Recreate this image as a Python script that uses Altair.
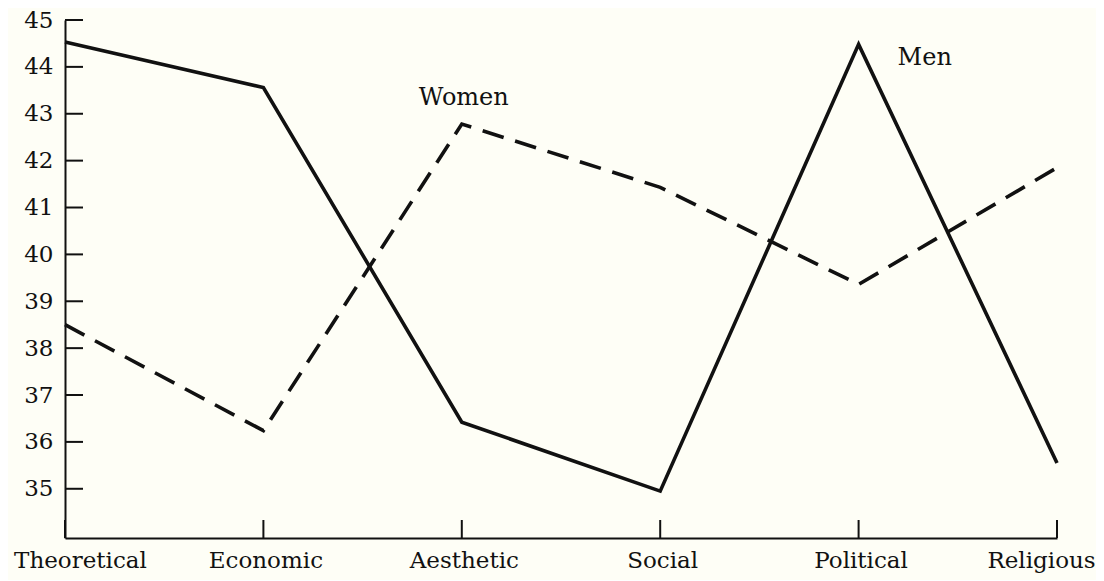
import altair as alt
import pandas as pd

categories = ["Theoretical", "Economic", "Aesthetic", "Social", "Political", "Religious"]
men = [44.53, 43.56, 36.42, 34.95, 44.48, 35.55]
women = [38.5, 36.24, 42.78, 41.43, 39.36, 41.85]
y_ticks = [35, 36, 37, 38, 39, 40, 41, 42, 43, 44, 45]

FONT = "DejaVu Serif"
INK = "#111111"
W, H = 992, 518

men_df = pd.DataFrame({"category": categories, "value": men})
women_df = pd.DataFrame({"category": categories, "value": women})
ytick_df = pd.DataFrame({"value": y_ticks})
xtick_df = pd.DataFrame({"category": categories})
women_lab = pd.DataFrame({"category": ["Aesthetic"], "value": [women[2]], "label": ["Women"]})
men_lab = pd.DataFrame({"category": ["Political"], "value": [men[4]], "label": ["Men"]})

xscale = alt.Scale(domain=categories, type="point", padding=0)
yscale = alt.Scale(domain=[33.95, 45], nice=False, zero=False)

x_axis = alt.Axis(
    title=None, ticks=False, tickSize=0, grid=False, labelAngle=0,
    domainColor=INK, domainWidth=2, labelFont=FONT, labelFontSize=23,
    labelColor=INK, labelPadding=11,
    labelOffset={"condition": [
        {"test": "datum.value === 'Theoretical'", "value": 15},
        {"test": "datum.value === 'Religious'", "value": -16}],
        "value": 2},
)
y_axis = alt.Axis(
    title=None, values=y_ticks, ticks=False, tickSize=0, grid=False,
    domainColor=INK, domainWidth=2, labelFont=FONT, labelFontSize=23,
    labelColor=INK, labelPadding=12,
)

X = alt.X("category:N", sort=categories, scale=xscale, axis=x_axis)
Y = alt.Y("value:Q", scale=yscale, axis=y_axis)

men_line = alt.Chart(men_df).mark_line(color=INK, strokeWidth=3.6, strokeJoin="miter").encode(x=X, y=Y)
women_line = alt.Chart(women_df).mark_line(
    color=INK, strokeWidth=3.6, strokeDash=[22, 12], strokeJoin="miter"
).encode(x=X, y=Y)

ytick_rules = alt.Chart(ytick_df).mark_rule(color=INK, strokeWidth=2).encode(
    y=Y, x=alt.value(0), x2=alt.value(18)
)
xtick_rules = alt.Chart(xtick_df).mark_rule(color=INK, strokeWidth=2).encode(
    x=X, y=alt.value(H - 18), y2=alt.value(H)
)

women_text = alt.Chart(women_lab).mark_text(
    font=FONT, fontSize=24, color=INK, align="center", baseline="alphabetic", dx=2, dy=-19
).encode(x=X, y=Y, text="label:N")
men_text = alt.Chart(men_lab).mark_text(
    font=FONT, fontSize=24, color=INK, align="left", baseline="alphabetic", dx=39, dy=21
).encode(x=X, y=Y, text="label:N")

chart = alt.layer(
    xtick_rules, ytick_rules, men_line, women_line, women_text, men_text
).properties(
    width=W, height=H,
    background="#fefef6",
    padding={"left": 57, "top": 12, "right": 39, "bottom": 42},
    autosize=alt.AutoSizeParams(type="none"),
).configure_view(stroke=None)

chart.save("out.html", embed_options={"renderer": "svg", "actions": False})
